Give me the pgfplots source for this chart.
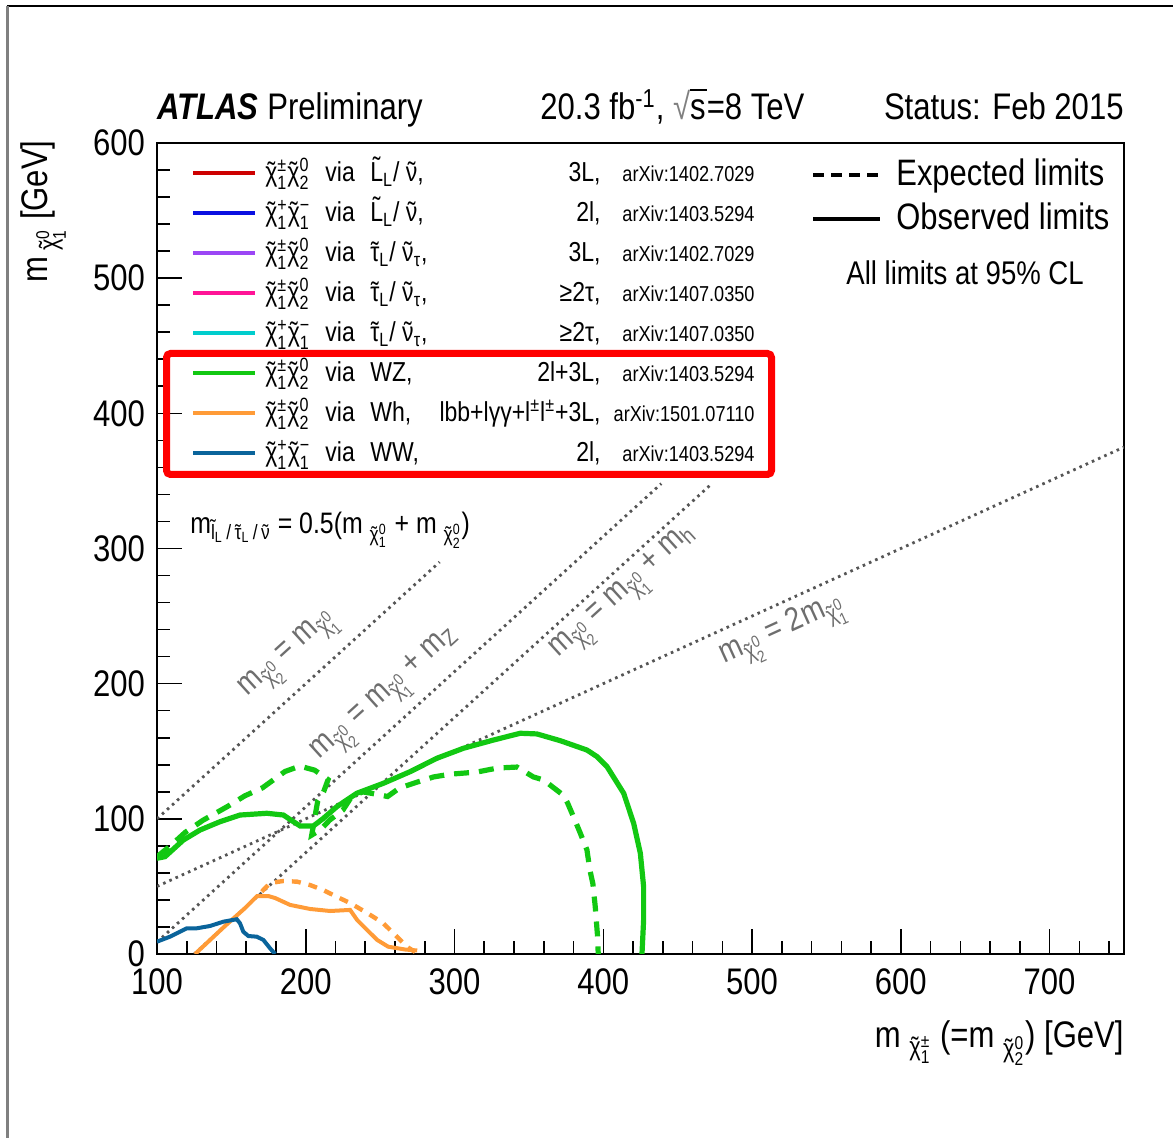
\documentclass[border=0pt]{standalone}
\usepackage{pgfplots}
\pgfplotsset{compat=1.18}
\usepackage{amsmath}
\usepackage{graphicx}
\usepackage{fontspec}
\setmainfont{Liberation Sans}[FakeStretch=0.84]

% curve and legend colours
\definecolor{cRed}{RGB}{205,0,0}
\definecolor{cBlue}{RGB}{10,16,225}
\definecolor{cPurple}{RGB}{155,70,245}
\definecolor{cPink}{RGB}{255,20,150}
\definecolor{cCyan}{RGB}{0,205,205}
\definecolor{cGreen}{RGB}{18,200,18}
\definecolor{cOrange}{RGB}{255,155,55}
\definecolor{cWW}{RGB}{10,100,155}
\definecolor{cLine}{RGB}{85,85,85}
\definecolor{cLabel}{RGB}{110,110,110}

% tilde placed over a glyph (optional raise for tall letters)
\newcommand{\tl}[2][0pt]{{\ooalign{#2\cr\hidewidth\raisebox{#1}{˜}\hidewidth\cr}}}
\newcommand{\chit}{\tl{χ}}
% chargino / neutralino with super- and subscript
\newcommand{\ch}[2]{\ensuremath{\text{\chit}^{\text{#1}}_{\text{#2}}}}
\newcommand{\sub}[1]{\ensuremath{_{\text{#1}}}}

\newcommand{\lgfont}{\fontsize{13.7}{15}\selectfont}
\newcommand{\arfont}{\fontsize{10.8}{12}\selectfont}
\newcommand{\bigfont}{\fontsize{18.5}{20}\selectfont}

% one legend row: index, colour, pair, process, analysis, reference
\newcommand{\legrow}[6]{%
  \pgfmathsetmacro{\ry}{(781-40*#1)*0.5}%
  \draw[#2, line width=2pt] (18pt,\ry pt) -- (49pt,\ry pt);
  \node[anchor=base west, inner sep=0pt, font=\lgfont] at (54pt,\ry pt-4.5pt) {#3};
  \node[anchor=base west, inner sep=0pt, font=\lgfont] at (84pt,\ry pt-4.5pt) {via};
  \node[anchor=base west, inner sep=0pt, font=\lgfont] at (106.5pt,\ry pt-4.5pt) {#4};
  \node[anchor=base east, inner sep=0pt, font=\lgfont] at (222pt,\ry pt-4.5pt) {#5};
  \node[anchor=base east, inner sep=0pt, font=\arfont] at (299pt,\ry pt-4.5pt) {#6};
}

\begin{document}
\begin{tikzpicture}
\path[use as bounding box] (-78.5pt,-92pt) rectangle (508pt,477pt);
% page frame
\draw[black, line width=1pt] (-75pt,474pt) -- (508pt,474pt);
\draw[gray, line width=1.2pt] (-74.75pt,474pt) -- (-74.75pt,-92pt);

\begin{axis}[
  at={(0pt,0pt)}, anchor=south west,
  scale only axis, width=483.5pt, height=405.5pt,
  xmin=100, xmax=750, ymin=0, ymax=600,
  xtick={100,200,...,700}, ytick={0,100,...,600},
  minor xtick={100,120,...,740}, minor ytick={0,20,...,600},
  xtick pos=left, ytick pos=left,
  tick align=inside,
  major tick length=12.5pt, minor tick length=6.5pt,
  axis line style={line width=1pt},
  every tick/.style={black, line width=0.8pt},
  tick label style={font=\bigfont},
  /pgf/number format/assume math mode=true,
  /pgf/number format/1000 sep={},
  xticklabel style={yshift=-4pt},
  yticklabel style={xshift=-2.5pt},
]
% kinematic reference lines
\addplot[cLine, line width=1.4pt, dash pattern=on 1.3pt off 2.1pt] coordinates {(100,100) (290,290)};
\addplot[cLine, line width=1.4pt, dash pattern=on 1.3pt off 2.1pt] coordinates {(100,8.8) (439,348)};
\addplot[cLine, line width=1.4pt, dash pattern=on 1.3pt off 2.1pt] coordinates {(125,0) (473,348)};
\addplot[cLine, line width=1.4pt, dash pattern=on 1.3pt off 2.1pt] coordinates {(100,50) (750,375)};

% WZ expected
\addplot[cGreen, line width=2.6pt, dash pattern=on 7.5pt off 5pt] coordinates {
 (100,72) (109,80) (119,90) (131,99) (148,109.5) (159,117) (171,123) (186,135)
 (196,139) (206,136) (215,129) (212,120) (208,113) (204,88) (210,92) (216,99)
 (225,106.5) (230,115) (238,120) (246,118.5) (255,116.5) (263,122.8) (275,127.2)
 (286,131) (297,133) (315,134.6) (329,137.6) (342,138.3) (353,131) (360,128.7)
 (366,123.5) (373,117.6) (376,111.7) (380,101.4) (384.5,89.5) (389,77) (391,62)
 (393,52) (394.6,34.8) (396,15) (396.6,0)};
% WZ observed
\addplot[cGreen, line width=2.6pt] coordinates {
 (100,70.8) (105.4,72.0) (117.7,84.3) (128.9,91.7) (142.4,97.9) (155.8,102.8)
 (173.8,104.1) (185.0,102.8) (191.7,97.9) (196.2,94.7) (205.1,94.7) (211.9,100.4)
 (220.9,109.0) (234.3,118.9) (252.2,126.3) (270.2,134.9) (288.1,144.8) (306.0,152.2)
 (326.2,158.3) (344.2,163.3) (355.4,162.8) (371.1,157.8) (389.0,150.9) (395.8,146.0)
 (402.5,138.6) (413.7,118.9) (420.4,96.7) (424.9,74.5) (427.1,49.8) (427.1,25.2)
 (426.0,0)};
% Wh expected
\addplot[cOrange, line width=2.2pt, dash pattern=on 4.5pt off 4pt] coordinates {
 (170.4,46.1) (176.0,52.5) (184.8,54.0) (194.2,53.5) (202.9,51.0) (211.7,47.3)
 (221.1,42.2) (229.8,37.7) (241.3,30.3) (252.0,22.9) (261.4,12.6) (268.2,5.2)
 (273.5,1.5)};
% Wh observed
\addplot[cOrange, line width=2pt] coordinates {
 (125.6,0) (145.7,20.7) (159.2,34) (167.3,42.9) (174.7,42.9) (179.4,41.4)
 (189.5,36.3) (202.9,33.3) (216.4,31.8) (229.8,32.6) (234.5,25.2) (239.9,19.2)
 (248.0,10.4) (255.4,5.4) (266.8,3.3) (274.9,2.6)};
% WW observed
\addplot[cWW, line width=2pt] coordinates {
 (100,9.1) (108.7,12.8) (120.0,19.0) (126.7,19.0) (135.6,20.7) (144.6,23.9)
 (153.6,25.7) (155.8,22.7) (158.0,16.5) (161.4,13.3) (167.1,12.8) (171.5,10.4)
 (176.0,4.2) (179.4,0)};
\end{axis}

% header
\node[anchor=base west, inner sep=0pt, font=\bigfont] at (0pt,417pt) {\textbf{\textit{ATLAS}} Preliminary};
\node[anchor=base west, inner sep=0pt, font=\bigfont] at (191.5pt,417pt)
  {20.3 fb\ensuremath{^{\text{-1}}}, \textcolor{gray}{√}\ooalign{s\cr\rule[0.78em]{0.45em}{0.05em}\cr}=8 TeV};
\node[anchor=base east, inner sep=0pt, font=\bigfont] at (483.5pt,417pt) {Status: Feb 2015};

% axis titles
\node[anchor=base east, inner sep=0pt, font=\bigfont] at (483.5pt,-47pt)
  {m \ensuremath{_{\ch{±}{1}}} (=m \ensuremath{_{\ch{0}{2}}}) [GeV]};
\node[anchor=base east, rotate=90, inner sep=0pt, font=\bigfont] at (-54.5pt,407pt)
  {m\,\ensuremath{_{\ch{0}{1}}} [GeV]};

% legend of analyses
\legrow{0}{cRed}{\ch{±}{1}\ch{0}{2}}{\tl[0.2em]{L}\sub{L}/ \tl{ν},}{3L,}{arXiv:1402.7029}
\legrow{1}{cBlue}{\ch{+}{1}\ch{−}{1}}{\tl[0.2em]{L}\sub{L}/ \tl{ν},}{2l,}{arXiv:1403.5294}
\legrow{2}{cPurple}{\ch{±}{1}\ch{0}{2}}{\tl{τ}\sub{L}/ \tl{ν}\sub{τ},}{3L,}{arXiv:1402.7029}
\legrow{3}{cPink}{\ch{±}{1}\ch{0}{2}}{\tl{τ}\sub{L}/ \tl{ν}\sub{τ},}{≥2τ,}{arXiv:1407.0350}
\legrow{4}{cCyan}{\ch{+}{1}\ch{−}{1}}{\tl{τ}\sub{L}/ \tl{ν}\sub{τ},}{≥2τ,}{arXiv:1407.0350}
\legrow{5}{cGreen}{\ch{±}{1}\ch{0}{2}}{WZ,}{2l+3L,}{arXiv:1403.5294}
\legrow{6}{cOrange}{\ch{±}{1}\ch{0}{2}}{Wh,}{lbb+lγγ+l\ensuremath{^{\text{±}}}l\ensuremath{^{\text{±}}}+3L,}{arXiv:1501.07110}
\legrow{7}{cWW}{\ch{+}{1}\ch{−}{1}}{WW,}{2l,}{arXiv:1403.5294}
\draw[red, line width=3.5pt, rounded corners=2pt] (4.75pt,239.75pt) rectangle (307.25pt,300.25pt);

% line style key
\draw[black, line width=2pt, dash pattern=on 5.5pt off 3.5pt] (328pt,389.5pt) -- (361.5pt,389.5pt);
\node[anchor=base west, inner sep=0pt, font=\fontsize{18.4}{20}\selectfont] at (369.5pt,384pt) {Expected limits};
\draw[black, line width=2pt] (328pt,367.5pt) -- (361.5pt,367.5pt);
\node[anchor=base west, inner sep=0pt, font=\fontsize{18.4}{20}\selectfont] at (369.5pt,362pt) {Observed limits};
\node[anchor=base west, inner sep=0pt, font=\fontsize{16.4}{18}\selectfont] at (344.5pt,334.5pt) {All limits at 95\% CL};

% slepton mass assumption
\node[anchor=base west, inner sep=0pt, font=\fontsize{14.8}{16}\selectfont] at (16.5pt,210pt)
  {m\ensuremath{_{\text{\tl[0.2em]{l}}_{\text{L}}\text{\,/\,}\text{\tl{τ}}_{\text{L}}\text{\,/\,}\text{\tl{ν}}}} = 0.5(m \ensuremath{_{\ch{0}{1}}} + m \ensuremath{_{\ch{0}{2}}})};

% labels of the kinematic lines
\node[rotate=42.3, text=cLabel, inner sep=0pt, font=\fontsize{16.5}{18}\selectfont] at (66.5pt,149pt)
  {m\ensuremath{_{\ch{0}{2}}} = m\ensuremath{_{\ch{0}{1}}}};
\node[rotate=42.3, text=cLabel, inner sep=0pt, font=\fontsize{16.5}{18}\selectfont] at (115pt,129pt)
  {m\ensuremath{_{\ch{0}{2}}} = m\ensuremath{_{\ch{0}{1}}} + m\sub{Z}};
\node[rotate=42.3, text=cLabel, inner sep=0pt, font=\fontsize{16.5}{18}\selectfont] at (234pt,180pt)
  {m\ensuremath{_{\ch{0}{2}}} = m\ensuremath{_{\ch{0}{1}}} + m\sub{h}};
\node[rotate=24.45, text=cLabel, inner sep=0pt, font=\fontsize{16.5}{18}\selectfont] at (313pt,161pt)
  {m\ensuremath{_{\ch{0}{2}}} = 2m\ensuremath{_{\ch{0}{1}}}};
\end{tikzpicture}
\end{document}
